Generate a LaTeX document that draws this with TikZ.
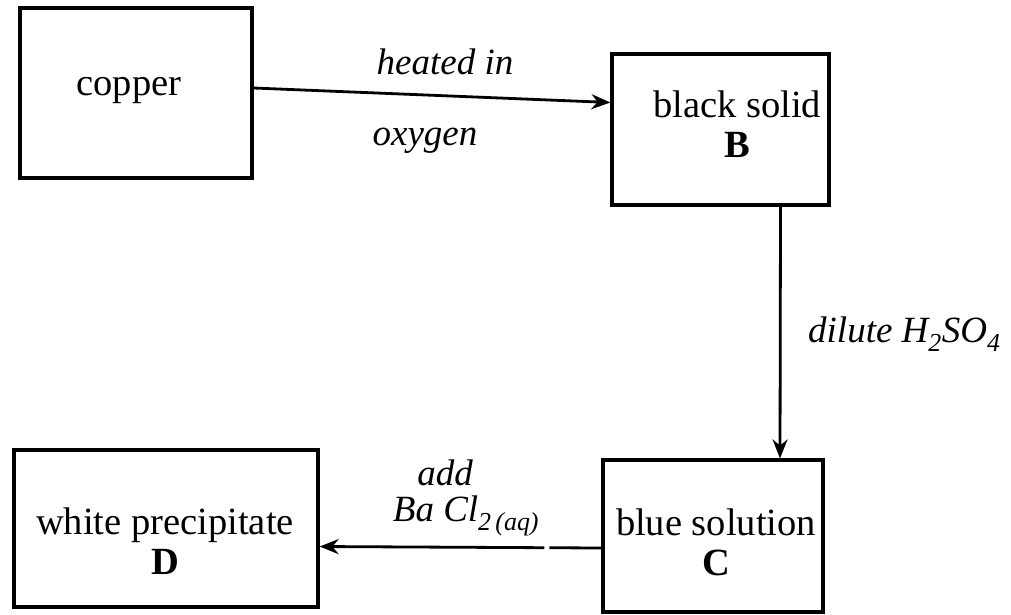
\documentclass[tikz,border=0pt]{standalone}
\usepackage{fontspec}
\setmainfont{Liberation Serif}
\usetikzlibrary{arrows.meta}
\begin{document}
\begin{tikzpicture}[x=1pt,y=-1pt,
  box/.style={draw,line width=3.2pt,minimum width=#1,inner sep=0pt},
  txt/.style={font=\fontsize{38.5}{40}\selectfont,align=center,inner sep=0pt},
  lbl/.style={font=\fontsize{37}{40}\selectfont\itshape,inner sep=0pt},
  arr/.style={line width=2.8pt,-{Stealth[length=19pt,width=15pt]}}]
\useasboundingbox (0,0) rectangle (1011,614);
% boxes
\node[box=232pt,minimum height=170pt] (copper) at (136,93) {};
\node[box=217pt,minimum height=151pt] (B) at (720.5,129.5) {};
\node[box=220pt,minimum height=152pt] (C) at (713,536) {};
\node[box=304pt,minimum height=157pt] (D) at (166,528.5) {};
% box texts
\node[txt] (tcopper) at (129,91) {copper};
\node[txt] (tB) at (737,124) {black solid\\\textbf{B}};
\node[txt] (tC) at (716,542) {blue solution\\\textbf{C}};
\node[txt] (tD) at (165,541) {white precipitate\\\textbf{D}};
% connectors
\draw[arr] ([yshift=5pt]copper.east) -- ([yshift=27pt]B.west);
\draw[arr] ([xshift=60pt]B.south) -- ([xshift=67pt]C.north);
\draw[arr,dash pattern=on 52pt off 5pt on 400pt] ([yshift=-12pt]C.west) -- ([yshift=-18pt]D.east);
% reaction labels
\node[lbl] (l1) at (445,62) {heated in};
\node[lbl] (l2) at (425,141) {oxygen};
\node[lbl,anchor=west] (l3) at (808,334) {dilute H\textsubscript{2}SO\textsubscript{4}};
\node[lbl,anchor=base] (l4) at (445,485) {add};
\node[lbl,anchor=base] (l5) at (466,521) {Ba Cl\textsubscript{2\,(aq)}};
\end{tikzpicture}
\end{document}
